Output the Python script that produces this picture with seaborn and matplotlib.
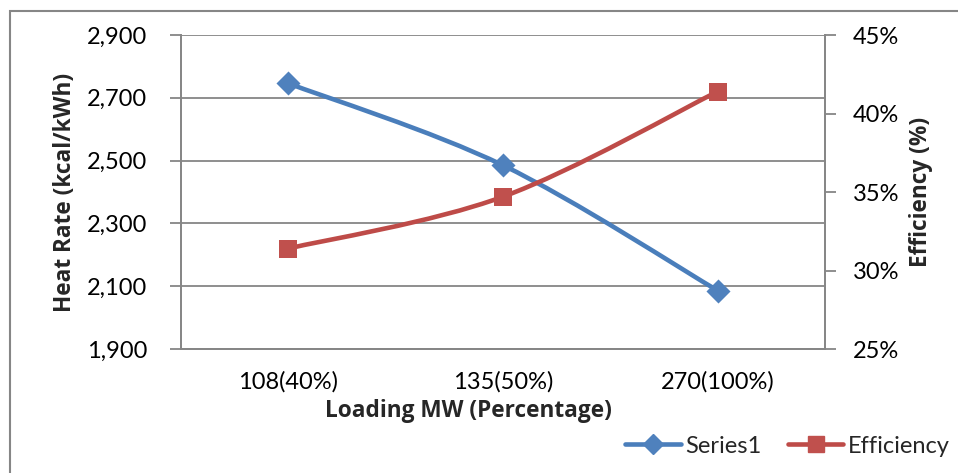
import numpy as np
import pandas as pd
import matplotlib
matplotlib.use("Agg")
import matplotlib.pyplot as plt
import seaborn as sns
from matplotlib.path import Path
from matplotlib.patches import PathPatch, Rectangle
from matplotlib.lines import Line2D
from matplotlib.ticker import FuncFormatter, FixedLocator

categories = ["108(40%)", "135(50%)", "270(100%)"]
heat_rate = [2746, 2485, 2086]
efficiency = [31.4, 34.7, 41.4]
left_ticks = [1900, 2100, 2300, 2500, 2700, 2900]
right_ticks = [25, 30, 35, 40, 45]

BLUE_LINE = "#4A7EBB"
BLUE_MK = "#4F81BD"
RED_LINE = "#BE4B48"
RED_MK = "#C0504D"
GRID = "#868686"

sns.set_theme(style="white")
plt.rcParams["font.family"] = ["Lato", "DejaVu Sans"]
TFS = 17
BOLD = dict(family=["Open Sans", "DejaVu Sans"], fontweight="bold", fontsize=16.3)

fig = plt.figure(figsize=(9.58, 4.73), dpi=100)
ax = fig.add_axes([181/958, 1-349/473, (825-181)/958, (349-35)/473])
ax2 = ax.twinx()

df = pd.DataFrame({"x": np.arange(len(categories)), "hr": heat_rate, "eff": efficiency})


def smooth_path(xs, ys):
    pts = np.column_stack([xs, ys]).astype(float)
    n = len(pts)
    verts = [pts[0]]
    codes = [Path.MOVETO]
    for i in range(n - 1):
        p0 = pts[max(i - 1, 0)]
        p1 = pts[i]
        p2 = pts[i + 1]
        p3 = pts[min(i + 2, n - 1)]
        c1 = p1 + (p2 - p0) / 6.0
        c2 = p2 - (p3 - p1) / 6.0
        verts += [c1, c2, p2]
        codes += [Path.CURVE4] * 3
    return Path(verts, codes)


lw = 3.3
ax.add_patch(PathPatch(smooth_path(df["x"], df["hr"]), fill=False, edgecolor=BLUE_LINE,
                       linewidth=lw, capstyle="round", joinstyle="round", zorder=3))
sns.scatterplot(data=df, x="x", y="hr", ax=ax, marker="D", s=150, color=BLUE_MK,
                edgecolor=BLUE_MK, linewidth=0, zorder=4, legend=False)

ax2.add_patch(PathPatch(smooth_path(df["x"], df["eff"]), fill=False, edgecolor=RED_LINE,
                        linewidth=lw, capstyle="round", joinstyle="round", zorder=3))
sns.scatterplot(data=df, x="x", y="eff", ax=ax2, marker="s", s=150, color=RED_MK,
                edgecolor=RED_MK, linewidth=0, zorder=4, legend=False)

ax.set_xlim(-0.5, 2.5)
ax.set_ylim(1900, 2900)
ax2.set_ylim(25, 45)

ax.yaxis.set_major_locator(FixedLocator(left_ticks))
ax.yaxis.set_major_formatter(FuncFormatter(lambda v, p: f"{v:,.0f}"))
ax2.yaxis.set_major_locator(FixedLocator(right_ticks))
ax2.yaxis.set_major_formatter(FuncFormatter(lambda v, p: f"{v:.0f}%"))

ax.xaxis.set_major_locator(FixedLocator([-0.5, 0.5, 1.5, 2.5]))
ax.xaxis.set_major_formatter(FuncFormatter(lambda v, p: ""))
ax.set_xticks(list(df["x"]), labels=categories, minor=True)
ax.tick_params(axis="x", which="minor", length=0, pad=16, labelsize=TFS, colors="black")
ax.tick_params(axis="x", which="major", length=8, width=1.3, color=GRID, direction="out")

ax.tick_params(axis="y", which="major", length=8, width=1.3, color=GRID, direction="out",
               pad=16.5, labelsize=TFS, labelcolor="black", left=True)
ax2.tick_params(axis="y", which="major", length=8, width=1.3, color=GRID, direction="out",
                pad=12, labelsize=TFS, labelcolor="black", right=True)

ax.grid(axis="y", color=GRID, linewidth=1.3)
ax.set_axisbelow(True)
for a in (ax, ax2):
    for s in a.spines.values():
        s.set_color(GRID)
        s.set_linewidth(1.3)
    a.spines["top"].set_visible(False)

ax.set_xlabel("Loading MW (Percentage)", **BOLD)
ax.xaxis.set_label_coords((468-181)/644, -(399-349)/314)
ax.set_ylabel("Heat Rate (kcal/kWh)", **BOLD)
ax.yaxis.set_label_coords((77-181)/644, 0.5)
ax2.set_ylabel("Efficiency (%)", rotation=90, **BOLD)
ax2.yaxis.set_label_coords((909-181)/644, 0.5)

handles = [
    Line2D([], [], color=BLUE_LINE, lw=lw, marker="D", markersize=10,
           markerfacecolor=BLUE_MK, markeredgecolor=BLUE_MK, solid_capstyle="round"),
    Line2D([], [], color=RED_LINE, lw=lw, marker="s", markersize=12,
           markerfacecolor=RED_MK, markeredgecolor=RED_MK, solid_capstyle="round"),
]
fig.legend(handles, ["Series1", "Efficiency"], loc="center right",
           bbox_to_anchor=(950/958, 1-446/473), frameon=False, fontsize=TFS,
           ncol=2, handlelength=2.35, handletextpad=0.2, columnspacing=1.1,
           borderaxespad=0, borderpad=0)

fig.patches.append(Rectangle((10/958, -0.1), 2.0, 1 - 11/473 + 0.1, transform=fig.transFigure,
                             fill=False, edgecolor=GRID, linewidth=1.5))

fig.savefig("out.png", dpi=100)
